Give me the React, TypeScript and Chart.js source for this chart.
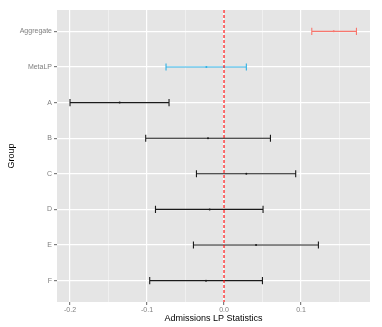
import React, { useEffect, useRef } from "react";
import { Chart, registerables } from "chart.js";

Chart.register(...registerables);

const groups = ["Aggregate", "MetaLP", "A", "B", "C", "D", "E", "F"];
const lows = [0.114, -0.0753, -0.2, -0.1017, -0.0358, -0.089, -0.0397, -0.0965];
const estimates = [0.1425, -0.0229, -0.1355, -0.0208, 0.029, -0.0186, 0.0416, -0.0234];
const highs = [0.172, 0.029, -0.0714, 0.0603, 0.0931, 0.0507, 0.1226, 0.0499];
const groupColors = ["#F8766D", "#2FB0E3", "#1a1a1a", "#1a1a1a", "#1a1a1a", "#1a1a1a", "#1a1a1a", "#1a1a1a"];
const xTickValues = [-0.2, -0.15, -0.1, -0.05, 0, 0.05, 0.1, 0.15];
const xTickLabels: Record<string, string> = { "-0.2": "-0.2", "-0.1": "-0.1", "0": "0.0", "0.1": "0.1" };
const referenceLine = 0;

const FONT = "'Liberation Sans', Arial, Helvetica, sans-serif";

const isMajor = (v: number) => xTickLabels[String(Math.round(v * 100) / 100)] !== undefined;

export default function App() {
  const ref = useRef<HTMLCanvasElement | null>(null);

  useEffect(() => {
    document.body.style.margin = "0";
    const canvas = ref.current!;
    const errorBars = {
      id: "errorBars",
      beforeDatasetsDraw(chart: any) {
        const { ctx, chartArea } = chart;
        const xs = chart.scales.x;
        const ys = chart.scales.y;
        ctx.save();
        ctx.beginPath();
        ctx.rect(chartArea.left, chartArea.top, chartArea.right - chartArea.left, chartArea.bottom - chartArea.top);
        ctx.clip();
        groups.forEach((g, i) => {
          const y = ys.getPixelForValue(i + 1);
          const x1 = xs.getPixelForValue(lows[i]);
          const x2 = xs.getPixelForValue(highs[i]);
          const h = Math.abs(ys.getPixelForValue(1.1) - ys.getPixelForValue(1));
          ctx.strokeStyle = groupColors[i];
          ctx.lineWidth = 1.1;
          ctx.beginPath();
          ctx.moveTo(x1, y);
          ctx.lineTo(x2, y);
          ctx.moveTo(x1, y - h);
          ctx.lineTo(x1, y + h);
          ctx.moveTo(x2, y - h);
          ctx.lineTo(x2, y + h);
          ctx.stroke();
        });
        ctx.restore();
      },
      afterDatasetsDraw(chart: any) {
        const { ctx, chartArea } = chart;
        const x = chart.scales.x.getPixelForValue(referenceLine);
        ctx.save();
        ctx.strokeStyle = "#FF0000";
        ctx.lineWidth = 1.1;
        ctx.setLineDash([3, 2]);
        ctx.beginPath();
        ctx.moveTo(x, chartArea.top);
        ctx.lineTo(x, chartArea.bottom);
        ctx.stroke();
        ctx.restore();
      },
    };
    const panelBg = {
      id: "panelBg",
      beforeDraw(chart: any) {
        const { ctx, chartArea } = chart;
        ctx.save();
        ctx.fillStyle = "#E5E5E5";
        ctx.fillRect(chartArea.left, chartArea.top, chartArea.right - chartArea.left, chartArea.bottom - chartArea.top);
        ctx.restore();
      },
    };

    const chart = new Chart(canvas, {
      type: "scatter",
      data: {
        datasets: [
          {
            data: estimates.map((v, i) => ({ x: v, y: i + 1 })),
            pointRadius: 1,
            pointBorderWidth: 0,
            pointBackgroundColor: groupColors,
            pointBorderColor: groupColors,
          },
        ],
      },
      options: {
        animation: false,
        responsive: false,
        devicePixelRatio: 1,
        layout: { padding: { left: 0, right: 12, top: 10, bottom: 0 } },
        plugins: { legend: { display: false }, tooltip: { enabled: false } },
        scales: {
          x: {
            type: "linear",
            min: -0.2169,
            max: 0.1896,
            afterBuildTicks: (s: any) => {
              s.ticks = xTickValues.map((v) => ({ value: v }));
            },
            afterFit: (s: any) => {
              s.height = 25;
            },
            border: { display: false },
            grid: {
              color: (c: any) => (isMajor(c.tick.value) ? "#FFFFFF" : "#F2F2F2"),
              lineWidth: (c: any) => (isMajor(c.tick.value) ? 1.2 : 0.8),
              tickColor: (c: any) => (isMajor(c.tick.value) ? "#7F7F7F" : "rgba(0,0,0,0)"),
              tickLength: 3,
              drawOnChartArea: true,
            },
            ticks: {
              autoSkip: false,
              maxRotation: 0,
              padding: 1,
              color: "#7F7F7F",
              font: { family: FONT, size: 7 },
              callback: (v: any) => xTickLabels[String(Math.round(Number(v) * 100) / 100)] ?? "",
            },
            title: {
              display: true,
              text: "Admissions LP Statistics",
              color: "#000000",
              font: { family: FONT, size: 9 },
              padding: { top: 0, bottom: 3.5 },
            },
          },
          y: {
            type: "linear",
            min: 0.4,
            max: 8.6,
            reverse: true,
            afterBuildTicks: (s: any) => {
              s.ticks = groups.map((_, i) => ({ value: i + 1 }));
            },
            afterFit: (s: any) => {
              s.width = 57;
            },
            border: { display: false },
            grid: {
              color: "#FFFFFF",
              lineWidth: 1.2,
              tickColor: "#7F7F7F",
              tickLength: 3,
            },
            ticks: {
              autoSkip: false,
              padding: 2,
              color: "#7F7F7F",
              font: { family: FONT, size: 7 },
              callback: (v: any) => groups[Math.round(Number(v)) - 1] ?? "",
            },
            title: {
              display: true,
              text: "Group",
              color: "#000000",
              font: { family: FONT, size: 9 },
              padding: { top: 6, bottom: 0 },
            },
          },
        },
      },
      plugins: [panelBg, errorBars],
    });
    return () => chart.destroy();
  }, []);

  return (
    <div style={{ position: "fixed", left: 0, top: 0, width: 382, height: 327, background: "#FFFFFF" }}>
      <canvas ref={ref} width={382} height={327} style={{ width: 382, height: 327 }} />
    </div>
  );
}
